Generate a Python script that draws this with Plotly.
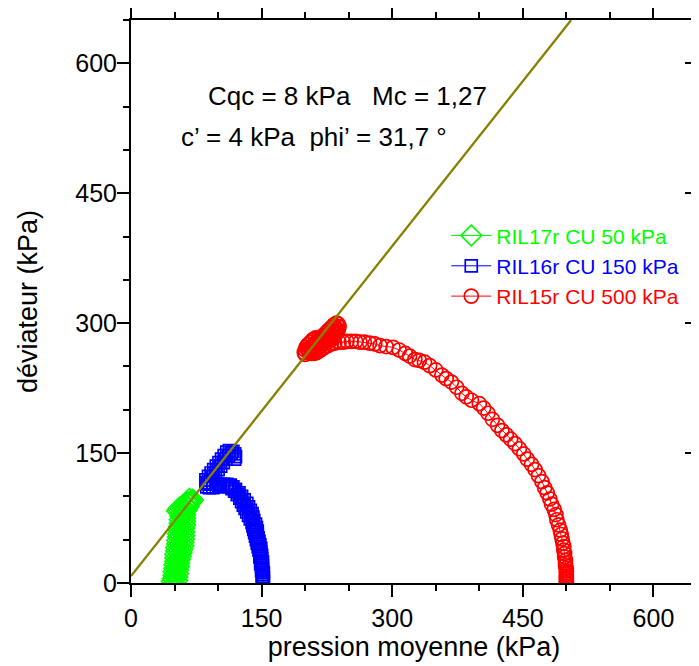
import plotly.graph_objects as go

# ---- data ----
red_p = [500, 500, 500, 500, 500, 500, 500, 500, 500, 499, 499, 499, 498, 498, 497, 497, 496, 495, 494, 493,
         491, 489, 488, 486, 483, 481, 478, 475, 472, 468, 464, 460, 455, 451, 446, 441, 436, 431, 426, 421,
         415, 410, 405, 400, 391, 385, 380, 374, 368, 362, 357, 350, 343, 337, 331, 326, 320, 315, 308, 301,
         293, 286, 280, 274, 268, 263, 258, 253, 248, 244, 239, 234, 230, 226,
         222, 219, 216, 213, 210, 207, 205, 204, 206, 209, 212, 215, 218, 221, 224, 227, 230, 233, 236, 238,
         239, 238, 236, 233, 230, 227, 224, 221, 218, 215, 212, 209, 206, 203, 201, 200, 199, 200,
         203, 207, 211, 215, 219, 223, 227, 231, 235, 238, 235, 231, 227, 223, 219, 215, 211, 207,
         210, 214, 218, 222, 226, 230, 234, 237]
red_q = [0, 2, 4, 6, 8, 10, 12, 14, 17, 20, 23, 26, 30, 34, 38, 42, 46, 51, 56, 61,
         67, 73, 79, 85, 91, 97, 104, 110, 117, 124, 131, 137, 143, 149, 155, 161, 166, 171, 176, 182,
         189, 196, 202, 207, 211, 215, 219, 226, 232, 236, 240, 246, 251, 255, 257, 258, 262, 265, 269, 272,
         273, 274, 276, 277, 278, 278, 279, 279, 279, 278, 278, 277, 276, 274,
         272, 270, 268, 266, 265, 265, 266, 268, 271, 274, 277, 280, 283, 286, 289, 292, 295, 298, 300, 299,
         296, 292, 288, 284, 281, 279, 278, 279, 281, 283, 283, 281, 278, 275, 272, 269, 266, 264,
         270, 273, 276, 279, 282, 285, 288, 291, 294, 296, 290, 286, 284, 281, 278, 276, 273, 270,
         268, 271, 274, 277, 280, 283, 287, 290]

blue_p = [151, 152, 151, 152, 151, 151, 152, 150, 151, 150, 151, 149, 151, 149, 150, 148, 150, 148, 149, 147,
          149, 146, 148, 145, 147, 144, 146, 143, 145, 142, 145, 141, 144, 140, 143, 139, 141, 137, 140, 135,
          139, 133, 137, 131, 135, 129, 133, 127, 130, 125, 127, 122, 124, 119, 120, 116, 117, 113, 114, 110,
          110, 106, 106, 102, 102, 98, 98, 94, 94, 90, 90, 87, 86,
          88, 86, 91, 89, 94, 92, 97, 95, 100, 98, 103, 101, 106, 104, 109, 107, 112, 110, 115, 113,
          117, 119, 120, 119]
blue_q = [0, 2, 4, 6, 8, 10, 12, 14, 16, 18, 20, 22, 24, 26, 28, 30, 32, 34, 36, 38,
          40, 42, 44, 46, 48, 50, 52, 54, 56, 58, 60, 62, 64, 66, 68, 70, 72, 74, 76, 78,
          80, 82, 84, 86, 88, 90, 92, 94, 96, 98, 100, 102, 104, 106, 108, 109, 111, 111, 113, 112,
          114, 112, 114, 112, 114, 111, 114, 110, 114, 110, 114, 111, 116,
          115, 119, 119, 123, 123, 127, 127, 131, 131, 135, 135, 139, 139, 143, 143, 147, 147, 151, 150, 153,
          152, 149, 146, 143]

green_p = [50, 47, 53, 48, 53, 49, 54, 49, 54, 50, 55, 50, 55, 51, 56, 51, 57, 51, 58, 52,
           59, 52, 60, 53, 60, 53, 61, 54, 61, 54, 61, 55, 61, 55, 62, 56, 62, 56, 62, 57,
           62, 58, 64, 60, 66, 62, 68, 64, 70, 67, 71, 68, 65, 62, 59, 56, 54, 53]
green_q = [0, 2, 3, 5, 7, 9, 11, 13, 15, 17, 19, 21, 23, 25, 27, 29, 31, 33, 35, 37,
           39, 41, 43, 45, 47, 49, 51, 53, 55, 57, 59, 61, 63, 65, 67, 69, 71, 73, 75, 77,
           79, 81, 84, 86, 88, 90, 92, 94, 95, 97, 96, 94, 93, 91, 89, 87, 85, 83]

names = ["RIL17r CU 50 kPa", "RIL16r CU 150 kPa", "RIL15r CU 500 kPa"]
colors = ["#00ff00", "#0000ff", "#ff0000"]

cqc = 8.0      # kPa
mc = 1.27
q_top = 650.0
x_ticks = [0, 150, 300, 450, 600]
y_ticks = [0, 150, 300, 450, 600]

FONT = "Liberation Sans, Arial, Helvetica, sans-serif"

fig = go.Figure()

def add_series(p, q, name, color, symbol, size):
    fig.add_trace(go.Scatter(
        x=p, y=q, mode="lines+markers",
        name="<span style='color:%s'>%s</span>" % (color, name),
        line=dict(color=color, width=1),
        marker=dict(symbol=symbol, size=size, color=color,
                    line=dict(color=color, width=1.7)),
    ))

add_series(red_p, red_q, names[2], colors[2], "circle-open", 14)
add_series(blue_p, blue_q, names[1], colors[1], "square-open", 12)
add_series(green_p, green_q, names[0], colors[0], "diamond-open", 16)

# critical state line q = Cqc + Mc * p
p_end = (q_top - cqc) / mc
fig.add_trace(go.Scatter(x=[0, p_end], y=[cqc, cqc + mc * p_end], mode="lines",
                         line=dict(color="#878000", width=2.3), showlegend=False, hoverinfo="skip"))

# invisible trace carrying the right-side axis (inward ticks)
fig.add_trace(go.Scatter(x=[0], y=[0], yaxis="y2", mode="markers", marker=dict(opacity=0),
                         showlegend=False, hoverinfo="skip"))

axis_common = dict(range=[0, 650], tickmode="array", showgrid=False, zeroline=False,
                   showline=True, linecolor="black", linewidth=2, automargin=False,
                   tickcolor="black", tickwidth=2, ticklen=12,
                   tickfont=dict(family=FONT, size=25, color="black"),
                   minor=dict(dtick=50, tick0=0, ticks="outside", ticklen=6, tickwidth=2, tickcolor="black"))

# the page body adds an 8 px offset; the figure is sized so the plot frame lands where the reference has it
fig.update_layout(
    width=691, height=658,
    margin=dict(l=123, r=2, t=12, b=83),
    paper_bgcolor="white", plot_bgcolor="white",
    font=dict(family=FONT, color="black"),
    xaxis=dict(**axis_common, tickvals=x_ticks, ticks="outside", mirror="ticks",
               ticklabelstandoff=0,
               title=dict(text="pression moyenne (kPa)", font=dict(family=FONT, size=27), standoff=6)),
    yaxis=dict(**axis_common, tickvals=y_ticks, ticks="outside", mirror=True,
               ticklabelstandoff=-5,
               title=dict(text="déviateur (kPa)", font=dict(family=FONT, size=27), standoff=30)),
    yaxis2=dict(range=[0, 650], overlaying="y", side="right", showgrid=False, zeroline=False,
                showline=False, showticklabels=False, tickmode="array", tickvals=y_ticks, automargin=False,
                ticks="inside", ticklen=12, tickwidth=2, tickcolor="black",
                minor=dict(dtick=50, tick0=0, ticks="inside", ticklen=6, tickwidth=2, tickcolor="black")),
    legend=dict(x=0.557, y=0.653, xanchor="left", yanchor="top", bgcolor="rgba(0,0,0,0)",
                traceorder="reversed", font=dict(family=FONT, size=21), itemwidth=40,
                tracegroupgap=0),
    showlegend=True,
    annotations=[
        dict(x=86, y=562, xref="x", yref="y", xanchor="left", yanchor="middle", showarrow=False,
             text="Cqc = 8 kPa   Mc = 1,27", font=dict(family=FONT, size=26, color="black")),
        dict(x=55, y=515, xref="x", yref="y", xanchor="left", yanchor="middle", showarrow=False,
             text="c’ = 4 kPa  phi’ = 31,7 °", font=dict(family=FONT, size=26, color="black")),
    ],
)

fig.write_html("out.html")
